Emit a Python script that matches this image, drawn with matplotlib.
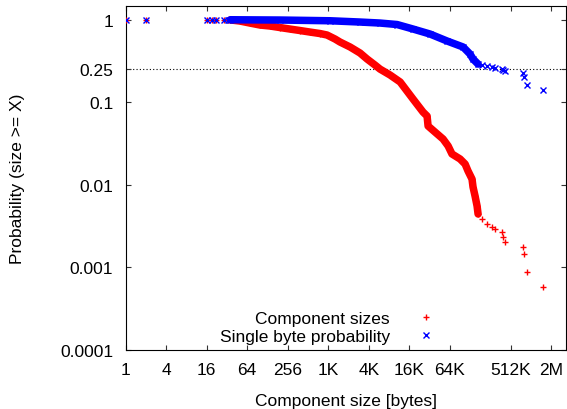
import matplotlib
matplotlib.use("Agg")
import matplotlib.pyplot as plt
from matplotlib.ticker import NullLocator, FixedLocator, FixedFormatter

plt.rcParams['font.family'] = ['Liberation Sans', 'DejaVu Sans']

# ---- data ----
head_sizes = [1, 2, 16, 19, 22, 29, 33]
head_prob = [1.0, 1.0, 1.0, 1.0, 1.0, 1.0, 1.0]

red_band_sizes = [36, 50, 70, 99, 140, 197, 277, 390, 549, 776, 982, 1296, 1531,
                  2165, 3040, 3870, 5080, 6030, 8480, 11990, 18700, 26250, 30150,
                  31200, 39550, 52100, 61950, 70700, 93300, 110900, 122300, 140400,
                  145300, 155700, 166900, 172700]
red_band_prob = [0.995, 0.964, 0.912, 0.863, 0.839, 0.804, 0.771, 0.740, 0.709, 0.680,
                 0.653, 0.583, 0.537, 0.467, 0.395, 0.334, 0.282, 0.252, 0.214, 0.176,
                 0.109, 0.076, 0.068, 0.0515, 0.0435, 0.0358, 0.0295, 0.0236, 0.0205,
                 0.0178, 0.0147, 0.0117, 0.00938, 0.0073, 0.00552, 0.00442]

tail_sizes = [198400, 234700, 279300, 309700, 392500, 406300, 435400,
              805000, 834000, 924000, 1600000]
red_tail_prob = [0.00384, 0.00334, 0.00307, 0.0029, 0.00267, 0.00232, 0.00202,
                 0.00176, 0.00145, 0.000875, 0.000575]

blue_band_sizes = [36, 197, 1090, 3040, 6030, 10800, 18700, 33400, 59900, 103500,
                   131000, 145300, 172700]
blue_band_prob = [1.0, 0.992, 0.972, 0.938, 0.912, 0.875, 0.771, 0.671, 0.552, 0.467,
                  0.384, 0.334, 0.290]
blue_tail_prob = [0.282, 0.275, 0.267, 0.260, 0.252, 0.246, 0.239, 0.226, 0.202,
                  0.162, 0.141]

xtick_vals = [1, 4, 16, 64, 256, 1024, 4096, 16384, 65536, 524288, 2097152]
xtick_labels = ['1', '4', '16', '64', '256', '1K', '4K', '16K', '64K', '512K', '2M']
ytick_vals = [1, 0.25, 0.1, 0.01, 0.001, 0.0001]
ytick_labels = ['1', '0.25', '0.1', '0.01', '0.001', '0.0001']

# ---- figure ----
W, H = 567, 410
fig = plt.figure(figsize=(W / 100, H / 100), dpi=100)
L, R, T, B = 125.7, 566.0, 6.7, 350.7
ax = fig.add_axes([L / W, (H - B) / H, (R - L) / W, (B - T) / H])
ax.set_xscale('log')
ax.set_yscale('log')

red = '#ff0000'
blue = '#0000ff'
FS = 12.5

red_sizes = head_sizes + red_band_sizes + tail_sizes
red_prob = head_prob + red_band_prob + red_tail_prob
blue_sizes = head_sizes + blue_band_sizes + tail_sizes
blue_prob = head_prob + blue_band_prob + blue_tail_prob

ax.plot(red_band_sizes, red_band_prob, color=red, lw=5.4, zorder=2,
        solid_capstyle='round', solid_joinstyle='round')
ax.plot(red_sizes, red_prob, ls='none', marker='+', ms=5, mew=1.0, color=red,
        zorder=3, label='Component sizes')
ax.plot(blue_band_sizes, blue_band_prob, color=blue, lw=5.4, zorder=4,
        solid_capstyle='round', solid_joinstyle='round')
ax.plot(blue_sizes, blue_prob, ls='none', marker='x', ms=4.5, mew=1.0, color=blue,
        zorder=5, label='Single byte probability')

ax.axhline(0.25, color='black', ls=(0, (1, 2)), lw=0.8, zorder=1)

ax.set_xlim(1, 3.5e6)
ax.set_ylim(1e-4, 1.48)

ax.xaxis.set_major_locator(FixedLocator(xtick_vals))
ax.xaxis.set_major_formatter(FixedFormatter(xtick_labels))
ax.xaxis.set_minor_locator(NullLocator())
ax.yaxis.set_major_locator(FixedLocator(ytick_vals))
ax.yaxis.set_major_formatter(FixedFormatter(ytick_labels))
ax.yaxis.set_minor_locator(NullLocator())

ax.tick_params(direction='in', length=3.6, width=0.8, top=True, right=True,
               labelsize=FS, color='#333333')
ax.tick_params(axis='y', pad=9)
ax.tick_params(axis='x', pad=8.5)
for s in ax.spines.values():
    s.set_linewidth(0.8)

ax.set_xlabel('Component size [bytes]', fontsize=FS, labelpad=12)
ax.set_ylabel('Probability (size >= X)', fontsize=FS, labelpad=25)

leg = ax.legend(markerfirst=False, frameon=False, handlelength=2.0,
                handletextpad=1.05, labelspacing=0.17, borderpad=0,
                borderaxespad=0, fontsize=FS, loc='lower right',
                bbox_to_anchor=(443 / W, (H - 345) / H),
                bbox_transform=fig.transFigure)

fig.savefig('out.png', dpi=100)
